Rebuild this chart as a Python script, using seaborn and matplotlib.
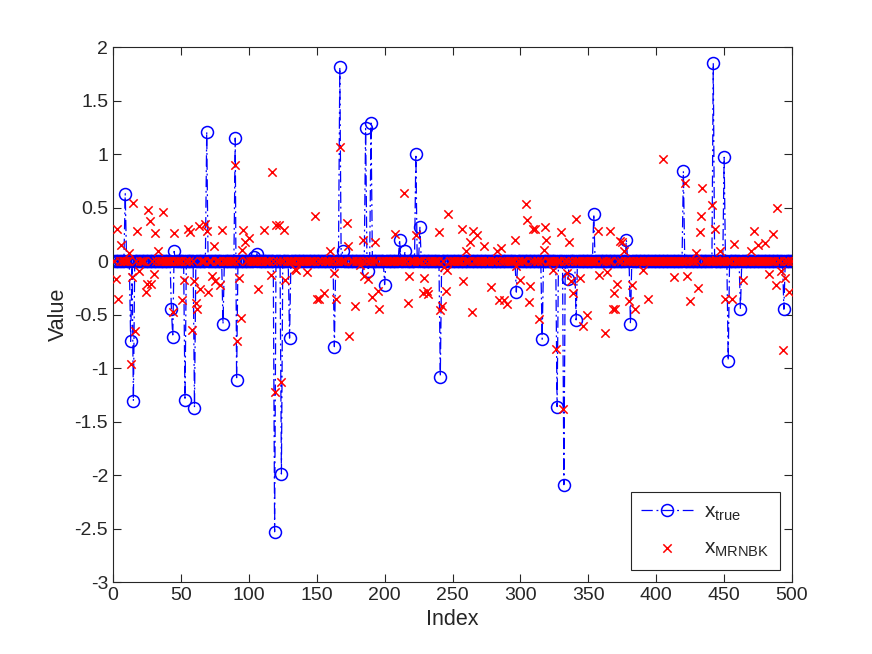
import numpy as np
import pandas as pd
import matplotlib
matplotlib.use("Agg")
import matplotlib.pyplot as plt
import seaborn as sns

# valores (índices 1..500, resto = 0)
n_points = 500

true_idx = [9, 13, 15, 43, 44, 45, 53, 60, 69, 81, 90, 91, 104, 106, 119, 124,
            130, 163, 167, 169, 186, 188, 190, 200, 211, 215, 223, 226, 241,
            297, 316, 327, 332, 335, 341, 354, 378, 381, 420, 442, 450, 453,
            462, 494]
true_val = [0.63, -0.75, -1.31, -0.45, -0.71, 0.09, -1.30, -1.37, 1.21, -0.59,
            1.15, -1.11, 0.04, 0.07, -2.53, -1.99, -0.72, -0.80, 1.81, 0.09,
            1.24, -0.09, 1.29, -0.22, 0.20, 0.09, 1.00, 0.32, -1.08, -0.29,
            -0.73, -1.36, -2.09, -0.17, -0.55, 0.44, 0.20, -0.59, 0.84, 1.85,
            0.97, -0.93, -0.45, -0.45]

est_idx = [2, 3, 4, 6, 12, 13, 14, 15, 16, 18, 19, 24, 25, 26, 27, 28, 30, 31,
           33, 37, 44, 45, 51, 52, 55, 57, 58, 60, 61, 62, 63, 64, 68, 69, 70,
           73, 74, 75, 79, 80, 90, 91, 93, 94, 95, 96, 97, 100, 107, 111, 116,
           117, 119, 120, 122, 124, 126, 127, 134, 135, 143, 149, 150, 152, 155,
           160, 163, 164, 167, 172, 173, 174, 178, 182, 184, 185, 188, 191, 193,
           195, 196, 208, 214, 217, 218, 223, 228, 229, 231, 232, 240, 241, 242,
           244, 245, 246, 247, 257, 258, 260, 263, 264, 265, 268, 273, 278, 283,
           284, 286, 288, 290, 296, 297, 300, 304, 305, 306, 307, 309, 311, 314,
           317, 318, 319, 324, 326, 330, 331, 334, 336, 337, 339, 341, 344, 346,
           349, 357, 358, 362, 364, 366, 368, 369, 370, 371, 373, 375, 376, 380,
           382, 384, 390, 394, 405, 413, 421, 423, 425, 429, 431, 432, 433, 434,
           441, 443, 444, 447, 451, 456, 457, 464, 470, 472, 475, 480, 483, 486,
           488, 489, 492, 493, 495, 498]
est_val = [-0.17, 0.30, -0.35, 0.15, 0.08, -0.96, -0.15, 0.54, -0.65, 0.28,
           -0.09, -0.29, -0.21, 0.48, 0.37, -0.21, -0.12, 0.26, 0.09, 0.46,
           -0.48, 0.26, -0.36, -0.18, 0.30, 0.27, -0.64, -0.19, -0.39, -0.45,
           0.33, -0.26, 0.35, 0.28, -0.29, -0.14, 0.14, -0.19, -0.22, 0.29,
           0.90, -0.75, -0.16, -0.53, 0.10, 0.29, 0.18, 0.22, -0.26, 0.29,
           -0.13, 0.83, -1.22, 0.34, 0.34, -1.13, 0.29, -0.18, -0.07, -0.08,
           -0.10, 0.42, -0.35, -0.35, -0.30, 0.09, -0.11, -0.35, 1.07, 0.36,
           0.14, -0.70, -0.42, -0.04, 0.20, -0.14, -0.17, -0.34, 0.18, -0.28,
           -0.45, 0.25, 0.64, -0.39, -0.14, 0.24, -0.30, -0.16, -0.28, -0.31,
           0.27, -0.46, -0.42, -0.06, -0.28, -0.08, 0.44, 0.30, -0.19, 0.09,
           0.18, -0.48, 0.28, 0.24, 0.14, -0.24, 0.09, -0.36, 0.12, -0.36,
           -0.40, 0.20, -0.05, -0.18, 0.53, 0.38, -0.38, -0.23, 0.30, 0.30,
           -0.54, 0.10, 0.32, 0.20, -0.08, -0.82, 0.27, -1.38, -0.11, 0.18,
           -0.19, -0.30, 0.39, -0.16, -0.61, -0.50, 0.28, -0.13, -0.67, -0.10,
           0.28, -0.45, -0.30, -0.45, -0.21, 0.19, 0.18, 0.09, -0.37, -0.22,
           -0.45, -0.08, -0.35, 0.95, -0.15, 0.73, -0.14, -0.37, 0.08, -0.25,
           0.27, 0.42, 0.68, 0.52, 0.30, 0.01, 0.09, -0.35, -0.35, 0.16, -0.18,
           0.09, 0.28, 0.15, 0.17, -0.12, 0.25, -0.22, 0.50, -0.09, -0.83,
           -0.16, -0.29]

index = np.arange(1, n_points + 1)
x_true = np.zeros(n_points)
x_true[np.array(true_idx) - 1] = true_val
x_est = np.zeros(n_points)
x_est[np.array(est_idx) - 1] = est_val

df = pd.DataFrame({"Index": index, "x_true": x_true, "x_MRNBK": x_est})

sns.set_style("white")
plt.rcParams['font.family'] = ['Liberation Sans', 'DejaVu Sans']
plt.rcParams['mathtext.fontset'] = 'custom'
plt.rcParams['mathtext.rm'] = 'Liberation Sans'

fig = plt.figure(figsize=(8.72, 6.54), dpi=100)
ax = fig.add_axes([0.1296, 0.110, 0.7787, 0.818])

sns.lineplot(data=df, x="Index", y="x_true", ax=ax, color="#0000FF",
             linewidth=0.9, dashes=False, marker="o", markersize=8.6,
             markerfacecolor="none", markeredgecolor="#0000FF",
             markeredgewidth=1.1, label=r"x$_{\mathregular{true}}$", sort=False)
ax.lines[0].set_dashes([9, 3, 1.5, 3])

sns.scatterplot(data=df, x="Index", y="x_MRNBK", ax=ax, marker="x",
                color="#FF0000", s=36, linewidth=1.1,
                label=r"x$_{\mathregular{MRNBK}}$", zorder=3)

ax.set_xlim(0, 500)
ax.set_ylim(-3, 2)
ax.set_xticks(np.arange(0, 501, 50))
ax.set_yticks(np.arange(-3, 2.01, 0.5))
ax.set_yticklabels(["-3", "-2.5", "-2", "-1.5", "-1", "-0.5", "0", "0.5", "1", "1.5", "2"])
ax.set_xlabel("Index", fontsize=15.5, color="#262626")
ax.set_ylabel("Value", fontsize=15.5, color="#262626")
ax.tick_params(direction="in", length=6, width=0.8, colors="#262626",
               labelsize=14, top=True, right=True, bottom=True, left=True)
for s in ax.spines.values():
    s.set_color("#262626")
    s.set_linewidth(0.8)

leg = ax.legend(loc="lower right", fontsize=15, frameon=True, fancybox=False,
                edgecolor="#262626", framealpha=1, handlelength=2.5,
                borderaxespad=0.6, borderpad=0.5, labelspacing=0.75,
                handletextpad=0.5)
leg.get_frame().set_linewidth(0.8)

fig.savefig("out.png", dpi=100)
